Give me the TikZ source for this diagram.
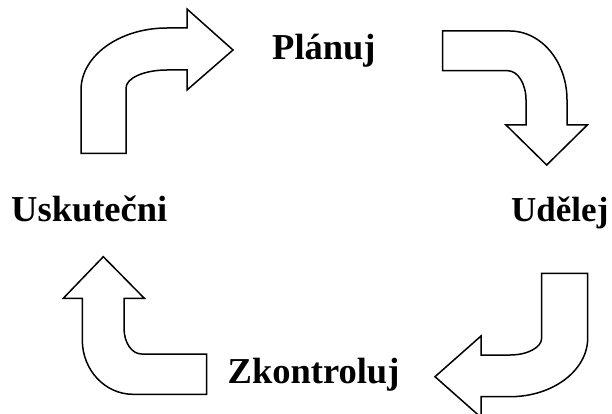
\documentclass[tikz,border=0pt]{standalone}
\usepackage{fontspec}
\setmainfont{Liberation Serif}
\begin{document}
\begin{tikzpicture}[x=1pt,y=-1pt,
  bigarrow/.style={draw=black,line width=1.5pt,fill=white,line join=miter},
  lbl/.style={inner sep=0pt,anchor=base west,font=\fontsize{36.5}{40}\selectfont\bfseries}]
\useasboundingbox (0,0) rectangle (612,414);
\clip (0,0) rectangle (612,414);
\fill[white] (0,0) rectangle (612,414);
% arrow 1 (top-left, pointing right)
\draw[bigarrow] (81,153.3) -- (81,90) .. controls (81,55.8) and (119.5,28) .. (167,28)
  -- (187,28) -- (187,9) -- (233,50) -- (187,90) -- (187,70) -- (167,70)
  .. controls (144.4,70) and (126,78) .. (126,88) -- (126,153.3) -- cycle;
% arrow 2 (top-right, pointing down)
\draw[bigarrow] (442.7,31) -- (510,31) .. controls (541.5,31) and (567,61.9) .. (567,100)
  -- (567,125) -- (587.3,125) -- (546.7,165) -- (506,125) -- (526,125) -- (526,100)
  .. controls (526,83.8) and (517.8,70.7) .. (507.7,70.7) -- (442.7,70.7) -- cycle;
% arrow 3 (bottom-right, pointing left)
\draw[bigarrow] (541.7,273.3) -- (587.7,273.3) -- (587.7,338)
  .. controls (587.7,370.4) and (552.9,396.7) .. (510,396.7) -- (481,396.7) -- (481,417.4)
  -- (435,376.7) -- (481,336) -- (481,355) -- (510,355)
  .. controls (527.5,355) and (541.7,347.4) .. (541.7,338) -- cycle;
% arrow 4 (bottom-left, pointing up)
\draw[bigarrow] (103.3,256.7) -- (144.3,298.3) -- (124,298.3) -- (124,328)
  .. controls (124,343) and (131.9,354) .. (141.7,354) -- (206.7,354) -- (206.7,394.3)
  -- (133,394.3) .. controls (105,394.3) and (82.3,370) .. (82.3,340) -- (82.3,298.3)
  -- (63.3,298.3) -- cycle;
% labels
\node[lbl] (planuj) at (272,60) {Plánuj};
\node[lbl] (uskutecni) at (11,221.7) {Uskutečni};
\node[lbl,font=\fontsize{35}{40}\selectfont\bfseries] (udelej) at (511,221.7) {Udělej};
\node[lbl] (zkontroluj) at (227.5,383.3) {Zkontroluj};
\end{tikzpicture}
\end{document}
